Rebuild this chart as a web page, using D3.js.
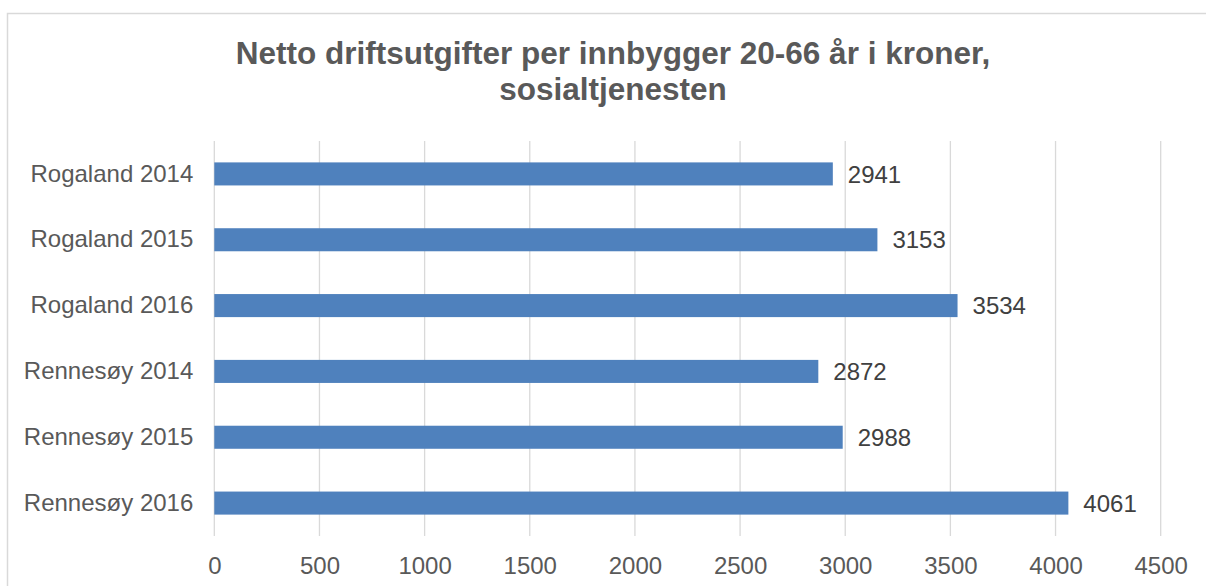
<!DOCTYPE html>
<html>
<head>
<meta charset="utf-8">
<script src="https://cdn.jsdelivr.net/npm/d3@7"></script>
<style>
  html, body { margin: 0; padding: 0; background: #fff; }
  svg { display: block; font-family: "Liberation Sans", Arial, sans-serif; }
</style>
</head>
<body>
<svg id="chart" width="1206" height="586"></svg>
<script>
// Net operating expenses per inhabitant aged 20-66, social services (NOK)
const categories = ["Rogaland 2014", "Rogaland 2015", "Rogaland 2016",
                    "Rennesøy 2014", "Rennesøy 2015", "Rennesøy 2016"];
const values = [2941, 3153, 3534, 2872, 2988, 4061];
const tickValues = [0, 500, 1000, 1500, 2000, 2500, 3000, 3500, 4000, 4500];
const titleLines = ["Netto driftsutgifter per innbygger 20-66 år i kroner,", "sosialtjenesten"];

const svg = d3.select("#chart");
const plot = { left: 214.3, right: 1160.7, top: 141, bottom: 536 };

// chart frame (extends past the right and bottom edges)
svg.append("rect")
  .attr("x", 7.5).attr("y", 13.5)
  .attr("width", 1230).attr("height", 620)
  .attr("fill", "#fff").attr("stroke", "#D9D9D9").attr("stroke-width", 1.5);

const x = d3.scaleLinear().domain([0, 4500]).range([plot.left, plot.right]);
const y = d3.scaleBand().domain(categories).range([plot.top, plot.bottom]).paddingInner(0.65).paddingOuter(0.325);

// vertical gridlines
svg.append("g").selectAll("line").data(tickValues).join("line")
  .attr("x1", d => x(d)).attr("x2", d => x(d))
  .attr("y1", plot.top).attr("y2", plot.bottom)
  .attr("stroke", "#D9D9D9").attr("stroke-width", 1.3);

// bars
svg.append("g").selectAll("rect").data(values).join("rect")
  .attr("x", x(0))
  .attr("y", (d, i) => y(categories[i]))
  .attr("width", d => x(d) - x(0))
  .attr("height", y.bandwidth())
  .attr("fill", "#4F81BD");

// value labels
svg.append("g").selectAll("text").data(values).join("text")
  .attr("x", d => x(d) + 15)
  .attr("y", (d, i) => y(categories[i]) + y.bandwidth() / 2)
  .attr("dy", "0.36em")
  .attr("font-size", 24)
  .attr("fill", "#404040")
  .text(d => d);

// category axis
const yAxis = svg.append("g")
  .attr("transform", `translate(${plot.left},0)`)
  .call(d3.axisLeft(y).tickSize(0).tickPadding(21));
yAxis.select(".domain").remove();
yAxis.selectAll("text")
  .attr("font-size", 24).attr("fill", "#595959")
  .attr("font-family", "Liberation Sans, Arial, sans-serif");

// value axis
const xAxis = svg.append("g")
  .attr("transform", `translate(0,${plot.bottom})`)
  .call(d3.axisBottom(x).tickValues(tickValues).tickSize(0).tickPadding(21).tickFormat(d3.format("d")));
xAxis.select(".domain").remove();
xAxis.selectAll("text")
  .attr("font-size", 24).attr("fill", "#595959")
  .attr("font-family", "Liberation Sans, Arial, sans-serif");

// title
svg.append("g").selectAll("text").data(titleLines).join("text")
  .attr("x", 613)
  .attr("y", (d, i) => 63.5 + i * 36.5)
  .attr("text-anchor", "middle")
  .attr("font-size", 31.5)
  .attr("font-weight", "bold")
  .attr("fill", "#595959")
  .text(d => d);
</script>
</body>
</html>
